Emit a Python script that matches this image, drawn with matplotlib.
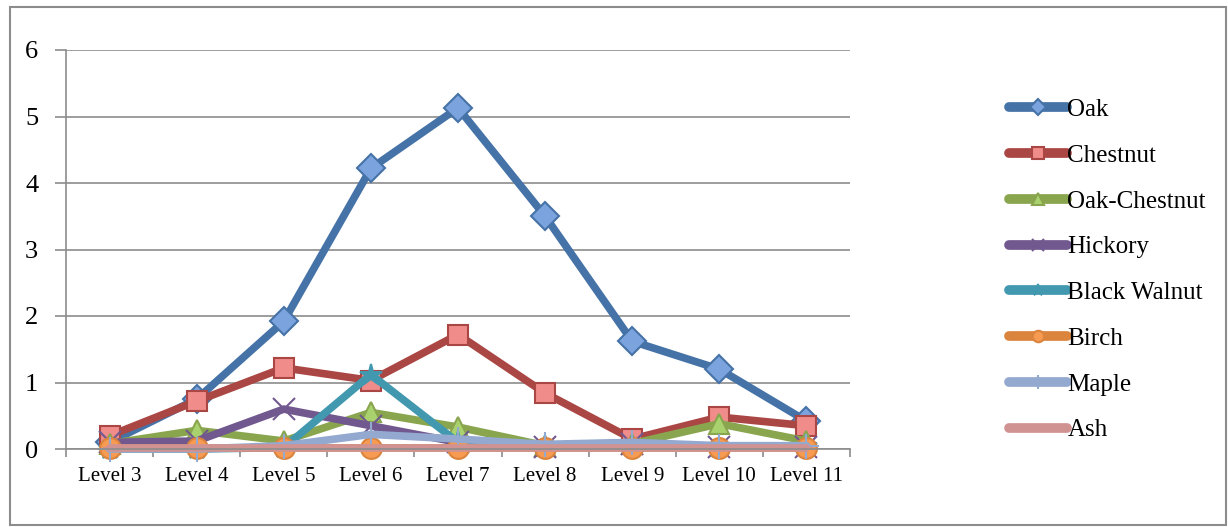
import numpy as np
import matplotlib.pyplot as plt
from matplotlib.patches import Rectangle

# categories and series values
levels = ["Level 3", "Level 4", "Level 5", "Level 6", "Level 7",
          "Level 8", "Level 9", "Level 10", "Level 11"]

oak          = [0.10, 0.75, 1.92, 4.22, 5.13, 3.50, 1.62, 1.20, 0.42]
chestnut     = [0.20, 0.72, 1.22, 1.03, 1.72, 0.84, 0.15, 0.48, 0.35]
oak_chestnut = [0.08, 0.28, 0.12, 0.55, 0.33, 0.05, 0.08, 0.38, 0.12]
hickory      = [0.10, 0.12, 0.60, 0.35, 0.10, 0.03, 0.08, 0.03, 0.03]
black_walnut = [0.00, 0.00, 0.02, 1.12, 0.10, 0.05, 0.05, 0.02, 0.05]
birch        = [0.02, 0.02, 0.02, 0.02, 0.02, 0.02, 0.02, 0.02, 0.02]
maple        = [0.00, 0.00, 0.05, 0.22, 0.15, 0.07, 0.10, 0.05, 0.05]
ash          = [0.02, 0.02, 0.02, 0.02, 0.02, 0.02, 0.02, 0.02, 0.02]

series_names = ["Oak", "Chestnut", "Oak-Chestnut", "Hickory",
                "Black Walnut", "Birch", "Maple", "Ash"]
series_vals = [oak, chestnut, oak_chestnut, hickory,
               black_walnut, birch, maple, ash]

# style per series: line colour, marker, marker face, marker size
styles = [
    ("#4572A7", "D", "#7BA3DE", 14),
    ("#AA4643", "s", "#F08C8A", 15),
    ("#89A54E", "^", "#A9D26E", 15),
    ("#71588F", "x", "#71588F", 16),
    ("#4198AF", "*", "#4198AF", 16),
    ("#DB843D", "o", "#F79A52", 15),
    ("#93A9CF", "+", "#93A9CF", 18),
    ("#D19392", "_", "#E8B0AF", 10),
]

plt.rcParams['font.family'] = ['Liberation Serif', 'DejaVu Serif']

fig = plt.figure(figsize=(12.28, 5.27), dpi=100)
ax = fig.add_axes([66 / 1228, 1 - 449 / 527, (850 - 66) / 1228, (449 - 50) / 527])

x = np.arange(len(levels))
for name, vals, (col, mk, face, ms) in zip(series_names, series_vals, styles):
    ax.plot(x, vals, color=col, lw=5.5, marker=mk, markersize=ms,
            markerfacecolor=face, markeredgecolor=col, markeredgewidth=1.5,
            solid_capstyle='round', solid_joinstyle='round', label=name,
            clip_on=False)

ax.set_xlim(-0.5, len(levels) - 0.5)
ax.set_ylim(0, 6)
ax.set_yticks(range(0, 7))
ax.yaxis.grid(True, color="#8c8c8c", lw=1.2)
ax.set_axisbelow(True)
ax.set_xticks(x)
ax.set_xticklabels(levels, fontsize=15)
ax.set_xticks(np.arange(-0.5, len(levels)), minor=True)
ax.tick_params(axis='x', which='major', length=0, pad=13)
ax.tick_params(axis='x', which='minor', length=6, color="#8c8c8c", width=1.2)
ax.tick_params(axis='y', labelsize=19, length=8, color="#8c8c8c", width=1.2, pad=12)
for s in ("top", "right"):
    ax.spines[s].set_visible(False)
for s in ("left", "bottom"):
    ax.spines[s].set_color("#8c8c8c")
    ax.spines[s].set_linewidth(1.2)

leg = fig.legend(loc="upper left", bbox_to_anchor=(996 / 1228, 1 - 86 / 527),
                 frameon=False, fontsize=18, handlelength=2.35,
                 handletextpad=0.0, labelspacing=0.93, borderpad=0,
                 markerscale=0.55)
for h in leg.legend_handles:
    h.set_linewidth(7)

fig.patches.append(Rectangle((10 / 1228, 2 / 527), 1216 / 1228, 518 / 527,
                             transform=fig.transFigure, fill=False,
                             edgecolor="#8c8c8c", lw=1.5))

fig.savefig("out.png", dpi=100)
